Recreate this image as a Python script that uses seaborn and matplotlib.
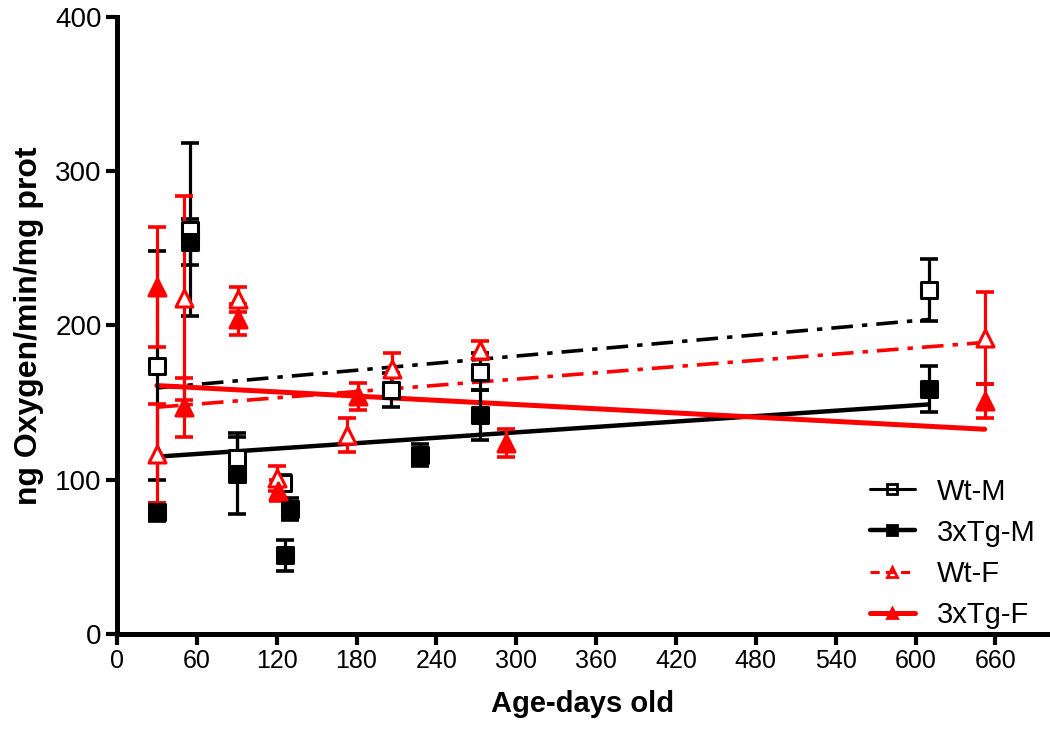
import numpy as np
import pandas as pd
import matplotlib
matplotlib.use("Agg")
import matplotlib.pyplot as plt
import seaborn as sns
from matplotlib.lines import Line2D

# ---- data ----
groups = ["Wt-M", "3xTg-M", "Wt-F", "3xTg-F"]

wtm_x = [30, 55, 90, 125, 206, 273, 610]
wtm_y = [174, 262, 114, 98, 158, 170, 223]
wtm_e = [74, 56, 14, 5, 11, 12, 20]

tgm_x = [30, 55, 90, 126, 130, 228, 273, 610]
tgm_y = [79, 254, 104, 51, 81, 116, 142, 159]
tgm_e = [6, 15, 26, 10, 7, 7, 16, 15]

wtf_x = [30, 50, 91, 120, 173, 207, 273, 652]
wtf_y = [117, 218, 217, 101, 129, 172, 184, 192]
wtf_e = [32, 66, 8, 8, 11, 10, 6, 30]

tgf_x = [30, 50, 91, 121, 181, 292, 652]
tgf_y = [225, 147, 204, 93, 154, 124, 151]
tgf_e = [39, 19, 10, 7, 9, 9, 11]

# linear fits (intercept, slope)
fit_intercept = [157.2, 113.2, 145.0, 162.4]
fit_slope = [0.0765, 0.0584, 0.0675, -0.0455]

x_ticks = [0, 60, 120, 180, 240, 300, 360, 420, 480, 540, 600, 660]
y_ticks = [0, 100, 200, 300, 400]

# ---- style ----
sns.set_style("ticks")
plt.rcParams['font.family'] = ['Liberation Sans', 'DejaVu Sans']
plt.rcParams['text.color'] = 'black'
plt.rcParams['axes.labelcolor'] = 'black'
plt.rcParams['xtick.color'] = 'black'
plt.rcParams['ytick.color'] = 'black'

RED = "#FF0000"
BLK = "#000000"
colors = [BLK, BLK, RED, RED]
markers = ["s", "s", "^", "^"]
filled = [False, True, False, True]
fit_ls = [(0, (6, 2.5, 1.5, 2.5)), "-", (0, (6, 2.5, 1.5, 2.5)), "-"]
fit_lw = [2.6, 3.2, 2.6, 3.6]

xs = [wtm_x, tgm_x, wtf_x, tgf_x]
ys = [wtm_y, tgm_y, wtf_y, tgf_y]
es = [wtm_e, tgm_e, wtf_e, tgf_e]

frames = []
for g, x, y, e in zip(groups, xs, ys, es):
    frames.append(pd.DataFrame({"group": g, "age": x, "val": y, "err": e}))
df = pd.concat(frames, ignore_index=True)

fit_rows = []
for g, x, b, m in zip(groups, xs, fit_intercept, fit_slope):
    xx = np.array([min(x), max(x)], dtype=float)
    fit_rows.append(pd.DataFrame({"group": g, "age": xx, "val": b + m * xx}))
fit_df = pd.concat(fit_rows, ignore_index=True)

fig = plt.figure(figsize=(10.5, 7.33), dpi=100)
ax = fig.add_axes([0.1114, 0.135, 0.886, 0.842])

# fit lines (seaborn)
order = [0, 2, 1, 3]
for i in order:
    g = groups[i]
    sub = fit_df[fit_df.group == g]
    sns.lineplot(data=sub, x="age", y="val", ax=ax, color=colors[i],
                 linewidth=fit_lw[i], linestyle=fit_ls[i], legend=False,
                 zorder=2)

# error bars
for i, g in enumerate(groups):
    sub = df[df.group == g]
    ax.errorbar(sub.age, sub.val, yerr=sub.err, fmt="none", ecolor=colors[i],
                elinewidth=2.3, capsize=6.5, capthick=2.6, zorder=3)

# markers (seaborn)
for i, g in enumerate(groups):
    sub = df[df.group == g]
    sns.scatterplot(data=sub, x="age", y="val", ax=ax, marker=markers[i],
                    s=135 if markers[i] == "s" else 150,
                    facecolor=colors[i] if filled[i] else "white",
                    edgecolor=colors[i], linewidth=2.2, legend=False, zorder=4)

ax.set_xlim(0, 699)
ax.set_ylim(0, 400)
ax.set_xticks(x_ticks)
ax.set_yticks(y_ticks)
ax.set_xticklabels([str(t) for t in x_ticks], fontsize=18, color="black")
ax.set_yticklabels([str(t) for t in y_ticks], fontsize=20, color="black")

for side in ["top", "right"]:
    ax.spines[side].set_visible(False)
for side in ["left", "bottom"]:
    ax.spines[side].set_linewidth(3.6)
    ax.spines[side].set_color("black")
ax.tick_params(axis="both", width=3, length=8, color="black", direction="out", pad=3)

ax.set_xlabel("Age-days old", fontsize=21, fontweight="bold", labelpad=12, color="black")
ax.set_ylabel("ng Oxygen/min/mg prot", fontsize=23, fontweight="bold", labelpad=8, color="black")

# legend
handles = []
leg_ls = ["-", "-", (0, (3, 2)), "-"]
leg_lw = [2.2, 3.2, 2.2, 3.6]
for i, g in enumerate(groups):
    handles.append(Line2D([0], [0], color=colors[i], linestyle=leg_ls[i], linewidth=leg_lw[i],
                          marker=markers[i], markersize=7.5,
                          markerfacecolor=colors[i] if filled[i] else "none",
                          markeredgecolor=colors[i], markeredgewidth=2.0))
leg = ax.legend(handles, groups, loc="lower right", bbox_to_anchor=(1.006, -0.02),
                frameon=False, fontsize=21, handlelength=1.55, labelspacing=0.45,
                handletextpad=0.75, borderaxespad=0.2)
for t in leg.get_texts():
    t.set_color("black")

fig.savefig("out.png", dpi=100)
